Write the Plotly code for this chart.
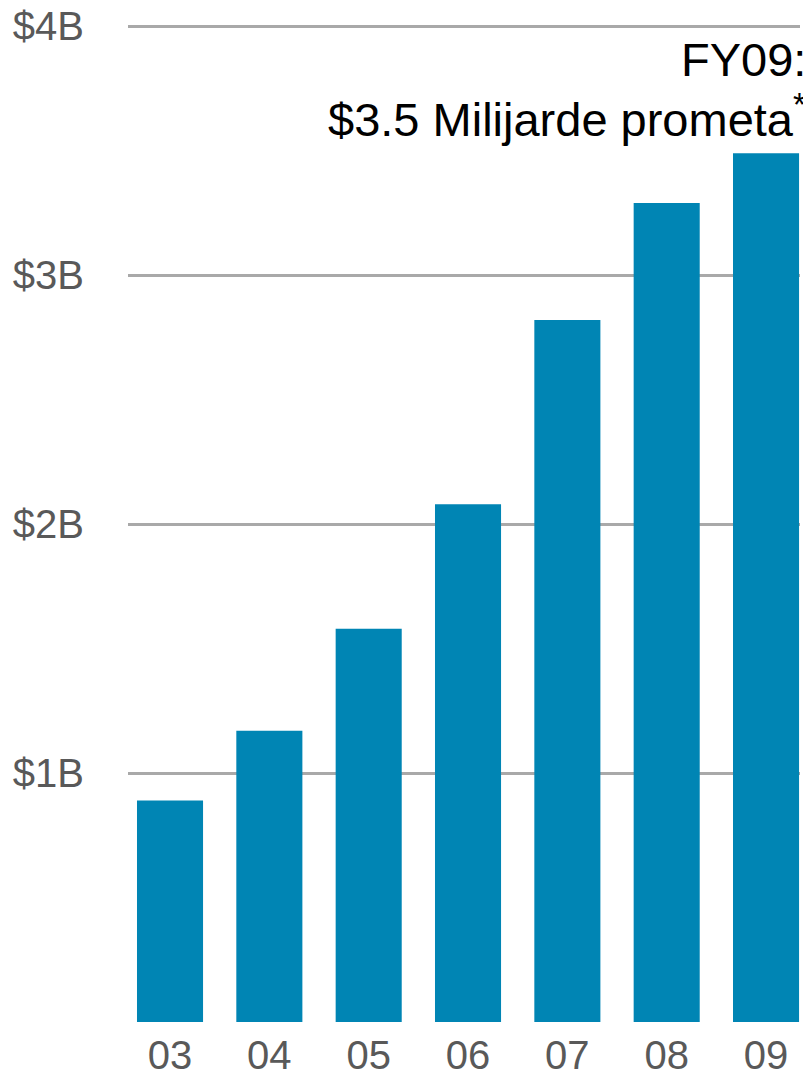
import plotly.graph_objects as go

# fiscal years and revenue in $ billions
years = ["03", "04", "05", "06", "07", "08", "09"]
revenue = [0.89, 1.17, 1.58, 2.08, 2.82, 3.29, 3.49]

tick_vals = [1, 2, 3, 4]
tick_text = ["$1B", "$2B", "$3B", "$4B"]

note_line1 = "FY09:"
note_line2 = "$3.5 Milijarde prometa<sup>*</sup>"

FONT = "Liberation Sans, Arial, sans-serif"

# page body has an 8px default margin, so the figure is 8px smaller each way
W, H = 803, 1067
L, R, T, B = 120, 11, 17, 53
plot_h = H - T - B

fig = go.Figure(
    go.Bar(
        x=years,
        y=revenue,
        width=0.665,
        marker=dict(color="#0085B4", line=dict(width=0)),
        showlegend=False,
    )
)

fig.update_layout(
    width=W,
    height=H,
    margin=dict(l=L, r=R, t=T, b=B),
    plot_bgcolor="white",
    paper_bgcolor="white",
    font=dict(family=FONT, size=40, color="#595959"),
    xaxis=dict(
        type="category",
        range=[-0.423, 6.342],
        automargin=False,
        showgrid=False,
        showline=False,
        zeroline=False,
        ticks="",
        ticklabelstandoff=6,
        ticklabeloverflow="allow",
        tickfont=dict(size=40, color="#595959"),
    ),
    yaxis=dict(
        range=[0, 4.005],
        automargin=False,
        tickvals=tick_vals,
        ticktext=tick_text,
        showgrid=True,
        gridcolor="#A9A9A9",
        gridwidth=2.5,
        zeroline=False,
        showline=False,
        ticks="",
        ticklabelstandoff=43,
        ticklabeloverflow="allow",
        tickfont=dict(size=40, color="#595959"),
    ),
    annotations=[
        dict(
            text=note_line1,
            xref="paper", yref="paper",
            x=1.012, y=(H - B - 52) / plot_h,
            xanchor="right", yanchor="middle",
            showarrow=False,
            font=dict(family=FONT, size=47, color="black"),
        ),
        dict(
            text=note_line2,
            xref="paper", yref="paper",
            x=1.012, y=(H - B - 108) / plot_h,
            xanchor="right", yanchor="middle",
            showarrow=False,
            font=dict(family=FONT, size=47, color="black"),
        ),
    ],
)

fig.write_html("out.html")
